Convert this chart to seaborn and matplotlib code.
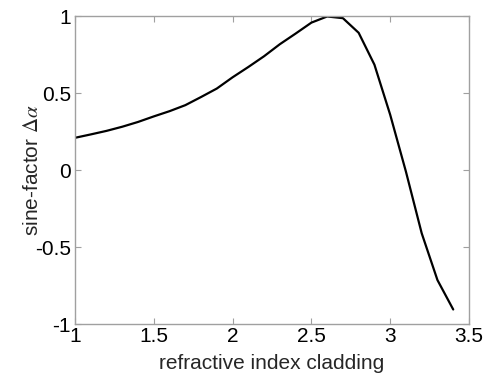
import matplotlib
matplotlib.use("Agg")
import matplotlib.pyplot as plt
import seaborn as sns
import pandas as pd

# refractive index of the cladding and the resulting sine-factor
n_cladding = [1.0, 1.1, 1.2, 1.3, 1.4, 1.5, 1.6, 1.7, 1.8, 1.9,
              2.0, 2.1, 2.2, 2.3, 2.4, 2.5, 2.6, 2.7, 2.8, 2.9,
              3.0, 3.1, 3.2, 3.3, 3.4]
sine_factor = [0.210, 0.232, 0.255, 0.282, 0.313, 0.349, 0.383, 0.422, 0.475, 0.530,
               0.603, 0.670, 0.740, 0.818, 0.887, 0.958, 0.998, 0.987, 0.892, 0.685,
               0.360, -0.010, -0.410, -0.714, -0.905]

x_ticks = [1, 1.5, 2, 2.5, 3, 3.5]
x_tick_labels = ["1", "1.5", "2", "2.5", "3", "3.5"]
y_ticks = [-1, -0.5, 0, 0.5, 1]
y_tick_labels = ["-1", "-0.5", "0", "0.5", "1"]

sns.set_style("white")
plt.rcParams["font.family"] = ["Liberation Sans", "DejaVu Sans"]
plt.rcParams["mathtext.fontset"] = "stix"

df = pd.DataFrame({"n": n_cladding, "s": sine_factor})

fig = plt.figure(figsize=(4.87, 3.76), dpi=100)
ax = fig.add_axes([0.154, 0.138, 0.809, 0.819])

sns.lineplot(data=df, x="n", y="s", ax=ax, color="black", linewidth=1.6,
             sort=False, estimator=None)

ax.set_xlim(1, 3.5)
ax.set_ylim(-1, 1)
ax.set_xticks(x_ticks)
ax.set_xticklabels(x_tick_labels)
ax.set_yticks(y_ticks)
ax.set_yticklabels(y_tick_labels)

spine_color = "#a0a0a0"
for side in ["left", "right", "top", "bottom"]:
    ax.spines[side].set_visible(True)
    ax.spines[side].set_color(spine_color)
    ax.spines[side].set_linewidth(1.0)

ax.tick_params(axis="both", which="major", direction="in", length=4,
               width=0.8, color=spine_color, labelsize=15, labelcolor="black",
               top=True, right=True, bottom=True, left=True)
ax.tick_params(axis="x", pad=2)
ax.tick_params(axis="y", pad=3)

ax.set_xlabel("refractive index cladding", fontsize=15, labelpad=6)
ax.set_ylabel(r"sine-factor $\Delta\alpha$", fontsize=15, labelpad=-5)

fig.savefig("out.png", dpi=100)
